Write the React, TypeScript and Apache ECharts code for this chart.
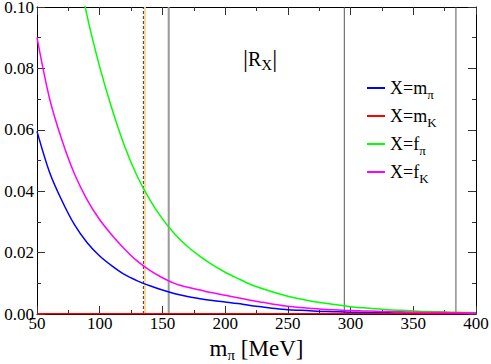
import React, { useEffect, useRef } from "react";
import * as echarts from "echarts";

const FONT = "Liberation Serif, Times New Roman, serif";

// pion mass grid (MeV)
const mPi = [50, 60, 70, 80, 90, 100, 110, 120, 130, 140, 150, 160, 170, 180, 190, 200, 210, 220, 230, 240, 250, 260, 270, 280, 290, 300, 310, 320, 330, 340, 350, 360, 370, 380, 390, 400];
const rMpi = [0.0595, 0.0462, 0.0368, 0.029, 0.0232, 0.0189, 0.0156, 0.0128, 0.0108, 0.0092, 0.0078, 0.0066, 0.0057, 0.005, 0.0044, 0.0039, 0.0034, 0.0028, 0.0023, 0.0018, 0.0014, 0.0012, 0.001, 0.0008, 0.0007, 0.0006, 0.0005, 0.0004, 0.0004, 0.0003, 0.0003, 0.0003, 0.0002, 0.0002, 0.0002, 0.0002];
const rMK = [0.0001, 0.0001, 0.0001, 0.0001, 0.0001, 0.0001, 0.0001, 0.0001, 0.0001, 0.0001, 0.0001, 0.0001, 0.0001, 0.0001, 0.0001, 0.0001, 0.0001, 0.0001, 0.0001, 0.0001, 0.0001, 0.0001, 0.0001, 0.0001, 0.0001, 0.0001, 0.0001, 0.0001, 0.0001, 0.0001, 0.0001, 0.0001, 0.0001, 0.0001, 0.0001, 0.0001];
const rFK = [0.09, 0.0702, 0.0565, 0.0455, 0.0372, 0.0307, 0.0256, 0.0211, 0.0172, 0.0142, 0.0118, 0.0099, 0.0087, 0.0078, 0.0069, 0.0061, 0.0053, 0.0045, 0.0038, 0.0031, 0.0025, 0.0021, 0.0018, 0.0015, 0.0013, 0.0011, 0.001, 0.0009, 0.0008, 0.0007, 0.0006, 0.0005, 0.0005, 0.0004, 0.0004, 0.0003];
const mPiF = [80, 90, 100, 110, 120, 130, 140, 150, 160, 170, 180, 190, 200, 210, 220, 230, 240, 250, 260, 270, 280, 290, 300, 310, 320, 330, 340, 350, 360, 370, 380, 390, 400];
const rFpi = [0.118, 0.097, 0.0805, 0.0665, 0.0545, 0.0448, 0.0372, 0.031, 0.026, 0.022, 0.0188, 0.016, 0.0136, 0.0116, 0.0097, 0.0082, 0.0069, 0.0058, 0.0049, 0.0041, 0.0035, 0.0029, 0.0024, 0.002, 0.0017, 0.0014, 0.0012, 0.001, 0.0008, 0.0007, 0.0006, 0.0005, 0.0004];

// vertical reference lines (MeV)
const refDashed = 134.8;
const refOrange = 136;
const refGray = 155;
const refDark = [295, 384];

const seriesNames = ["X=m_pi", "X=m_K", "X=f_pi", "X=f_K"];
const legendRich: Record<string, string> = {
  "X=m_pi": "{a|X=m}{s|π}",
  "X=m_K": "{a|X=m}{s|K}",
  "X=f_pi": "{a|X=f}{s|π}",
  "X=f_K": "{a|X=f}{s|K}",
};

const zip = (xs: number[], ys: number[]) => xs.map((x, i) => [x, ys[i]]);

export default function App() {
  const ref = useRef<HTMLDivElement>(null);
  useEffect(() => {
    document.body.style.margin = "0";
    const chart = echarts.init(ref.current!, null, { renderer: "svg" });
    const vline = (x: number, color: string, width: number, type: any = "solid") => ({
      type: "line",
      data: [[x, 0], [x, 0.1]],
      symbol: "none",
      silent: true,
      z: 1,
      lineStyle: { color, width, type },
    });
    const axisCommonX = {
      type: "value",
      min: 50,
      max: 400,
      interval: 50,
      splitLine: { show: false },
      axisLine: { show: true, onZero: false, lineStyle: { color: "#000", width: 1 } },
      axisTick: { show: true, inside: true, length: 8, lineStyle: { color: "#333" } },
      minorTick: { show: true, splitNumber: 2, length: 4, lineStyle: { color: "#333" } },
    };
    const axisCommonY = {
      type: "value",
      min: 0,
      max: 0.1,
      interval: 0.02,
      splitLine: { show: false },
      axisLine: { show: true, onZero: false, lineStyle: { color: "#000", width: 1 } },
      axisTick: { show: true, inside: true, length: 8, lineStyle: { color: "#333" } },
      minorTick: { show: true, splitNumber: 2, length: 4, lineStyle: { color: "#333" } },
    };
    const curve = (name: string, xs: number[], ys: number[], color: string) => ({
      name,
      type: "line",
      data: zip(xs, ys),
      symbol: "none",
      smooth: 0.3,
      z: 3,
      clip: true,
      lineStyle: { color, width: 1.5 },
      itemStyle: { color },
    });
    chart.setOption({
      animation: false,
      backgroundColor: "#fff",
      textStyle: { fontFamily: FONT },
      title: {
        text: "{b||}{a|R}{s|X}{b||}",
        left: 238,
        top: 40,
        textStyle: {
          fontWeight: "normal",
          fontFamily: FONT,
          rich: {
            a: { fontFamily: FONT, fontWeight: "normal", fontSize: 20, color: "#000" },
            b: { fontFamily: FONT, fontWeight: "normal", fontSize: 25, color: "#000" },
            s: { fontFamily: FONT, fontWeight: "normal", fontSize: 15, color: "#000", padding: [12, 0, 0, 0] },
          },
        },
      },
      legend: {
        data: seriesNames,
        orient: "vertical",
        left: 362,
        top: 74,
        icon: "rect",
        itemWidth: 18,
        itemHeight: 2,
        itemGap: 6,
        formatter: (n: string) => legendRich[n],
        textStyle: {
          fontFamily: FONT,
          rich: {
            a: { fontFamily: FONT, fontSize: 18, color: "#000" },
            s: { fontFamily: FONT, fontSize: 13, color: "#000", padding: [13, 0, 0, 0] },
          },
        },
      },
      grid: { left: 37, right: 15, top: 7, bottom: 50, containLabel: false, outerBoundsMode: "none" },
      xAxis: [
        {
          ...axisCommonX,
          position: "bottom",
          axisLabel: { show: true, fontFamily: FONT, fontSize: 17, color: "#000", margin: 1 },
          name: "{a|m}{s|π}{a| [MeV]}",
          nameLocation: "middle",
          nameGap: 19,
          nameTextStyle: {
            fontFamily: FONT,
            rich: {
              a: { fontFamily: FONT, fontSize: 23, color: "#000" },
              s: { fontFamily: FONT, fontSize: 15, color: "#000", padding: [14, 0, 0, 0] },
            },
          },
        },
        { ...axisCommonX, position: "top", axisLabel: { show: false } },
      ],
      yAxis: [
        {
          ...axisCommonY,
          position: "left",
          axisLabel: {
            show: true,
            fontFamily: FONT,
            fontSize: 17,
            color: "#000",
            margin: 3,
            formatter: (v: number) => v.toFixed(2),
          },
        },
        { ...axisCommonY, position: "right", axisLabel: { show: false } },
      ],
      series: [
        vline(refOrange, "#fbd598", 2),
        vline(refDashed, "#333", 1, [3, 2]),
        vline(refGray, "#999", 2),
        vline(refDark[0], "#555", 1),
        vline(refDark[1], "#555", 1),
        curve(seriesNames[0], mPi, rMpi, "#0000ff"),
        curve(seriesNames[1], mPi, rMK, "#ff0000"),
        curve(seriesNames[2], mPiF, rFpi, "#00ff00"),
        curve(seriesNames[3], mPi, rFK, "#ff00ff"),
      ],
    });
    return () => chart.dispose();
  }, []);
  return <div ref={ref} style={{ width: 491, height: 364 }} />;
}
